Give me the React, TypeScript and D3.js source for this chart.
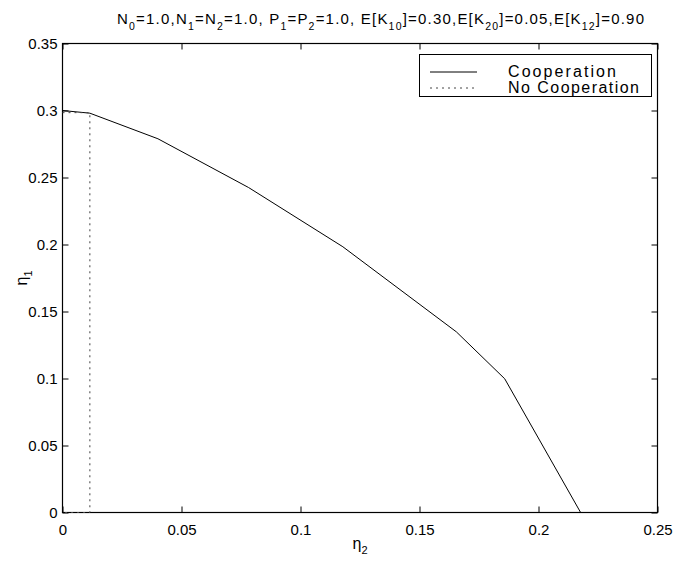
import React, { useRef, useEffect } from "react";
import * as d3 from "d3";

// eta2 / eta1 pairs
const coopX = [0, 0.0115, 0.0401, 0.0782, 0.1178, 0.1655, 0.1858, 0.2177];
const coopY = [0.3, 0.298, 0.2789, 0.2425, 0.1983, 0.1348, 0.0998, 0];

const noCoopX = [0, 0.0115, 0.0115, 0];
const noCoopY = [0.2984, 0.2984, 0, 0];

const xTicks = [0, 0.05, 0.1, 0.15, 0.2, 0.25];
const xTickLabels = ["0", "0.05", "0.1", "0.15", "0.2", "0.25"];
const yTicks = [0, 0.05, 0.1, 0.15, 0.2, 0.25, 0.3, 0.35];
const yTickLabels = ["0", "0.05", "0.1", "0.15", "0.2", "0.25", "0.3", "0.35"];

const seriesNames = ["Cooperation", "No Cooperation"];

// title pieces: [text, isSubscript]
const titleParts: [string, boolean][] = [
  ["N", false], ["0", true], ["=1.0,N", false], ["1", true], ["=N", false], ["2", true],
  ["=1.0, P", false], ["1", true], ["=P", false], ["2", true], ["=1.0, E[K", false],
  ["10", true], ["]=0.30,E[K", false], ["20", true], ["]=0.05,E[K", false], ["12", true],
  ["]=0.90", false],
];

const W = 673;
const H = 562;
const FONT = "'Liberation Sans', Arial, Helvetica, sans-serif";

function addSubText(sel: any, parts: [string, boolean][], size: number, subSize: number, shift: number) {
  let down = false;
  parts.forEach(([t, sub]) => {
    const ts = sel.append("tspan").text(t);
    if (sub) {
      ts.attr("font-size", subSize);
      if (!down) ts.attr("dy", shift);
      down = true;
    } else {
      ts.attr("font-size", size);
      if (down) ts.attr("dy", -shift);
      down = false;
    }
  });
}

export default function App() {
  const ref = useRef<SVGSVGElement>(null);

  useEffect(() => {
    const svg = d3.select(ref.current);
    svg.selectAll("*").remove();

    const left = 62.5, right = 657.5, top = 43.5, bottom = 512.5;
    const x = d3.scaleLinear().domain([0, 0.25]).range([left, right]);
    const y = d3.scaleLinear().domain([0, 0.35]).range([bottom, top]);

    svg.append("rect").attr("width", W).attr("height", H).attr("fill", "#fff");

    // axes with inward ticks on all four sides
    const gx = svg
      .append("g")
      .attr("transform", `translate(0,${bottom})`)
      .call(
        d3.axisBottom(x).tickValues(xTicks).tickSizeInner(-6).tickSizeOuter(0).tickPadding(12)
          .tickFormat((d, i) => xTickLabels[i])
      );
    const gy = svg
      .append("g")
      .attr("transform", `translate(${left},0)`)
      .call(
        d3.axisLeft(y).tickValues(yTicks).tickSizeInner(-6).tickSizeOuter(0).tickPadding(5)
          .tickFormat((d, i) => yTickLabels[i])
      );
    const gt = svg
      .append("g")
      .attr("transform", `translate(0,${top})`)
      .call(d3.axisTop(x).tickValues(xTicks).tickSizeInner(-6).tickSizeOuter(0).tickFormat(() => ""));
    const gr = svg
      .append("g")
      .attr("transform", `translate(${right},0)`)
      .call(d3.axisRight(y).tickValues(yTicks).tickSizeInner(-6).tickSizeOuter(0).tickFormat(() => ""));

    [gx, gy, gt, gr].forEach((g) => {
      g.select(".domain").remove();
      g.selectAll("line").attr("stroke", "#000");
      g.selectAll("text").attr("font-family", FONT).attr("font-size", 15).attr("fill", "#000");
    });

    svg
      .append("rect")
      .attr("x", left)
      .attr("y", top)
      .attr("width", right - left)
      .attr("height", bottom - top)
      .attr("fill", "none")
      .attr("stroke", "#000")
      .attr("stroke-width", 1.2);

    const path = d3.line<[number, number]>().x((d) => x(d[0])).y((d) => y(d[1]));

    svg
      .append("path")
      .attr("d", path(coopX.map((v, i) => [v, coopY[i]]) as [number, number][]))
      .attr("fill", "none")
      .attr("stroke", "#000")
      .attr("stroke-width", 1);

    svg
      .append("path")
      .attr("d", path(noCoopX.map((v, i) => [v, noCoopY[i]]) as [number, number][]))
      .attr("fill", "none")
      .attr("stroke", "#444")
      .attr("stroke-width", 1)
      .attr("stroke-dasharray", "2,4");

    // title
    const title = svg
      .append("text")
      .attr("x", 117)
      .attr("y", 24)
      .attr("text-anchor", "start")
      .attr("textLength", 527)
      .attr("lengthAdjust", "spacing")
      .attr("font-family", FONT)
      .attr("fill", "#000");
    addSubText(title, titleParts, 15, 10.5, 6);

    // axis labels
    const xl = svg
      .append("text")
      .attr("x", (left + right) / 2)
      .attr("y", 549)
      .attr("text-anchor", "middle")
      .attr("font-family", FONT)
      .attr("fill", "#000");
    addSubText(xl, [["η", false], ["2", true]], 16, 11, 5);

    const yl = svg
      .append("text")
      .attr("transform", `translate(27,${(top + bottom) / 2}) rotate(-90)`)
      .attr("text-anchor", "middle")
      .attr("font-family", FONT)
      .attr("fill", "#000");
    addSubText(yl, [["η", false], ["1", true]], 16, 11, 5);

    // legend
    const textLens = [108, 131];
    const lg = svg.append("g");
    lg.append("rect")
      .attr("x", 419.5)
      .attr("y", 54.5)
      .attr("width", 232)
      .attr("height", 42)
      .attr("fill", "#fff")
      .attr("stroke", "#000")
      .attr("stroke-width", 1);
    seriesNames.forEach((name, i) => {
      const yy = 72 + i * 16;
      lg.append("line")
        .attr("x1", 430)
        .attr("x2", 477)
        .attr("y1", yy)
        .attr("y2", yy)
        .attr("stroke", i === 0 ? "#000" : "#444")
        .attr("stroke-dasharray", i === 0 ? null : "2,4");
      lg.append("text")
        .attr("x", 508)
        .attr("y", yy + 5)
        .attr("font-family", FONT)
        .attr("font-size", 16)
        .attr("textLength", textLens[i])
        .attr("lengthAdjust", "spacing")
        .attr("fill", "#000")
        .text(name);
    });
  }, []);

  return (
    <svg
      ref={ref}
      width={W}
      height={H}
      style={{ position: "absolute", left: 0, top: 0, display: "block" }}
    />
  );
}
